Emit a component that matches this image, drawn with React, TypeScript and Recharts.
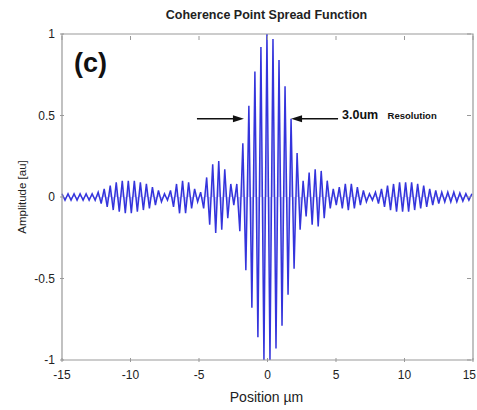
import React from "react";
import { AreaChart, Area, XAxis, YAxis, ReferenceArea, ReferenceLine } from "recharts";

// sampled fringe peaks, even spacing along position (µm)
const X_START = -15;
const STEP = 0.22;
const amplitude = [
  0.02, -0.02, 0.02, -0.02, 0.02, -0.02, 0.02, -0.02, 0.02, -0.02, 0.02, -0.02, 0.03,
  -0.04, 0.05, -0.06, 0.07, -0.08, 0.09, -0.09, 0.1, -0.1, 0.1, -0.1, 0.1, -0.09, 0.09,
  -0.08, 0.08, -0.07, 0.06, -0.05, 0.04, -0.03, 0.02, -0.02,
  0.04, -0.06, 0.08, -0.1, 0.1, -0.1, 0.09, -0.07, 0.05, -0.03, 0.03,
  -0.07, 0.12, -0.17, 0.2, -0.22, 0.22, -0.2, 0.17, -0.13, 0.08, -0.05,
  0.08, -0.21, 0.33, -0.45, 0.56, -0.68, 0.77, -0.86, 0.92, -1.0, 1.0, -1.0, 0.97, -0.93,
  0.84, -0.79, 0.68, -0.6, 0.48, -0.44, 0.27, -0.2,
  0.1, -0.12, 0.15, -0.17, 0.17, -0.18, 0.16, -0.13, 0.1, -0.07, 0.05,
  -0.05, 0.06, -0.07, 0.08, -0.08, 0.08, -0.07, 0.06, -0.05, 0.04,
  -0.03, 0.02, -0.02, 0.03, -0.04,
  0.05, -0.06, 0.07, -0.08, 0.08, -0.09, 0.09, -0.09, 0.09, -0.09, 0.09, -0.08, 0.08,
  -0.07, 0.07, -0.06, 0.05, -0.05, 0.04, -0.04, 0.03,
  -0.03, 0.03, -0.03, 0.03, -0.03, 0.025, -0.025, 0.02, -0.02, 0.02,
];

const xTicks = [-15, -10, -5, 0, 5, 10, 15];
const yTicks = [-1, -0.5, 0, 0.5, 1];

// arrows marking the 3.0um width, in data coords
const arrowY = 0.48;
const leftArrow = [-5.15, -1.72];
const rightArrow = [5.15, 1.72];

const data = amplitude.map((v, i) => ({ x: +(X_START + i * STEP).toFixed(2), v }));

const W = 477;
const H = 410;
const PLOT_W = 411;
const PLOT_H = 326;
const font = "'Liberation Sans', Arial, sans-serif";

const XTick = (props: any) => {
  const { x, y, payload } = props;
  const last = payload.value === xTicks[xTicks.length - 1];
  return (
    <g>
      <line x1={x} y1={y} x2={x} y2={y - 4} stroke="#999" />
      <line x1={x} y1={y - PLOT_H} x2={x} y2={y - PLOT_H + 4} stroke="#999" />
      <text
        x={last ? W - 1 : x}
        y={y + 17}
        textAnchor={last ? "end" : "middle"}
        fontSize={12}
        fill="#222"
        fontFamily={font}
      >
        {payload.value}
      </text>
    </g>
  );
};

const YTick = (props: any) => {
  const { x, y, payload } = props;
  return (
    <g>
      <line x1={x} y1={y} x2={x + 4} y2={y} stroke="#999" />
      <line x1={x + PLOT_W} y1={y} x2={x + PLOT_W - 4} y2={y} stroke="#999" />
      <text x={x - 5} y={y + 4} textAnchor="end" fontSize={12} fill="#222" fontFamily={font}>
        {payload.value}
      </text>
    </g>
  );
};

const Arrow = (props: any) => {
  const { x1, y1, x2, y2 } = props;
  const dir = x2 > x1 ? 1 : -1;
  return (
    <g>
      <line x1={x1} y1={y1} x2={x2 - dir * 8} y2={y2} stroke="#111" strokeWidth={1.5} />
      <polygon
        points={`${x2},${y2} ${x2 - dir * 11},${y2 - 3.5} ${x2 - dir * 11},${y2 + 3.5}`}
        fill="#111"
      />
    </g>
  );
};

export default function App() {
  return (
    <div style={{ position: "absolute", left: 0, top: 0, width: W, height: H, background: "#fff", fontFamily: font }}>
      <AreaChart width={W} height={H} data={data} margin={{ top: 34, right: 4, bottom: 20, left: 0 }}>
        <XAxis
          dataKey="x"
          type="number"
          domain={[-15, 15]}
          ticks={xTicks}
          tickSize={0}
          tickLine={false}
          axisLine={false}
          tick={<XTick />}
          height={30}
          interval={0}
        />
        <YAxis
          type="number"
          domain={[-1, 1]}
          ticks={yTicks}
          tickSize={0}
          tickLine={false}
          axisLine={false}
          tick={<YTick />}
          width={62}
          interval={0}
        />
        <Area
          type="linear"
          dataKey="v"
          baseValue={0}
          stroke="#3434dc"
          strokeWidth={1.5}
          fill="#b8b8f4"
          fillOpacity={0.85}
          dot={false}
          isAnimationActive={false}
        />
        <ReferenceArea x1={-15} x2={15} y1={-1} y2={1} fill="none" stroke="#999" strokeWidth={1.2} ifOverflow="visible" />
        <ReferenceLine
          segment={[{ x: leftArrow[0], y: arrowY }, { x: leftArrow[1], y: arrowY }]}
          shape={<Arrow />}
        />
        <ReferenceLine
          segment={[{ x: rightArrow[0], y: arrowY }, { x: rightArrow[1], y: arrowY }]}
          shape={<Arrow />}
        />
      </AreaChart>
      <div style={{ position: "absolute", left: 0, width: W, top: 8, textAlign: "center", paddingLeft: 56, boxSizing: "border-box", fontSize: 12.5, fontWeight: 700, color: "#222" }}>
        Coherence Point Spread Function
      </div>
      <div style={{ position: "absolute", left: 74, top: 48, fontSize: 27, fontWeight: 700, color: "#111" }}>(c)</div>
      <div style={{ position: "absolute", left: 342, top: 108, fontSize: 12.5, fontWeight: 700, color: "#111", whiteSpace: "nowrap" }}>
        3.0um <span style={{ fontSize: 9.5, marginLeft: 6 }}>Resolution</span>
      </div>
      <div style={{ position: "absolute", left: 22, top: 197, fontSize: 11.5, color: "#222", whiteSpace: "nowrap", transform: "translate(-50%, -50%) rotate(-90deg)" }}>
        Amplitude [au]
      </div>
      <div style={{ position: "absolute", left: 0, width: W, top: 389, textAlign: "center", paddingLeft: 56, boxSizing: "border-box", fontSize: 14, color: "#222" }}>
        Position µm
      </div>
    </div>
  );
}
